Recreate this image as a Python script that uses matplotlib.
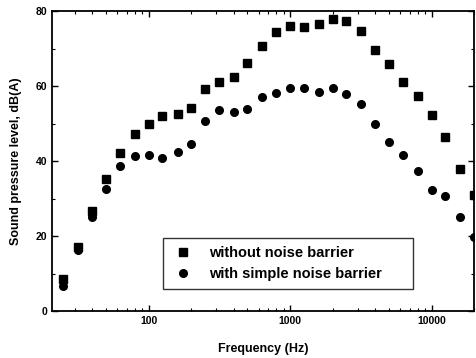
import numpy as np
import matplotlib.pyplot as plt
from matplotlib.ticker import LogLocator, MultipleLocator, NullFormatter

# 1/3 octave band centre frequencies
freq = [25, 31.5, 40, 50, 63, 80, 100, 125, 160, 200, 250, 315, 400, 500, 630,
        800, 1000, 1250, 1600, 2000, 2500, 3150, 4000, 5000, 6300, 8000,
        10000, 12500, 16000, 20000]
without_barrier = [8.5, 17.2, 26.6, 35.3, 42.1, 47.3, 49.8, 51.9, 52.5, 54.2,
                   59.1, 61.2, 62.3, 66.2, 70.8, 74.3, 76.1, 75.7, 76.5, 77.9,
                   77.3, 74.6, 69.6, 65.8, 61.0, 57.4, 52.4, 46.4, 37.9, 31.0]
with_barrier = [6.7, 16.4, 25.2, 32.6, 38.8, 41.4, 41.6, 40.9, 42.3, 44.6,
                50.7, 53.7, 53.2, 53.9, 57.2, 58.1, 59.5, 59.6, 58.3, 59.4,
                58.0, 55.1, 50.0, 45.2, 41.5, 37.3, 32.2, 30.8, 25.1, 19.7]


def main():
    plt.rcParams['font.family'] = ['Liberation Sans', 'DejaVu Sans']
    plt.rcParams['font.weight'] = 'bold'

    fig = plt.figure(figsize=(4.76, 3.58), dpi=100)
    ax = fig.add_axes([0.109, 0.131, 0.887, 0.838])

    ax.plot(freq, without_barrier, 's', color='k', ms=5.5, label='without noise barrier')
    ax.plot(freq, with_barrier, 'o', color='k', ms=5.5, label='with simple noise barrier')

    ax.set_xscale('log')
    ax.set_xlim(20.7, 20000)
    ax.set_ylim(0, 80)
    ax.set_xticks([100, 1000, 10000])
    ax.set_xticklabels(['100', '1000', '10000'])
    ax.xaxis.set_minor_locator(LogLocator(base=10, subs=np.arange(2, 10)))
    ax.xaxis.set_minor_formatter(NullFormatter())
    ax.yaxis.set_major_locator(MultipleLocator(20))
    ax.yaxis.set_minor_locator(MultipleLocator(10))

    ax.tick_params(which='both', direction='in', top=True, right=True, labelsize=7.5)
    ax.tick_params(which='major', length=4, width=1)
    ax.tick_params(which='minor', length=2.5, width=0.8)
    for s in ax.spines.values():
        s.set_linewidth(1.3)

    ax.set_xlabel('Frequency (Hz)', fontsize=9, fontweight='bold', labelpad=12)
    ax.set_ylabel('Sound pressure level, dB(A)', fontsize=9, fontweight='bold', labelpad=10)

    # legend box placed where it sits in the reference (axes coords)
    leg = ax.legend(loc='lower left', bbox_to_anchor=(0.263, 0.073, 0.592, 0.17),
                    mode='expand', borderaxespad=0, fontsize=10.5,
                    frameon=True, fancybox=False, edgecolor='k', handletextpad=1.0,
                    handlelength=1.6, borderpad=0.55, labelspacing=0.5)
    leg.get_frame().set_linewidth(1)

    fig.savefig('out.png', dpi=100)
    return


if __name__ == "__main__":
    main()
